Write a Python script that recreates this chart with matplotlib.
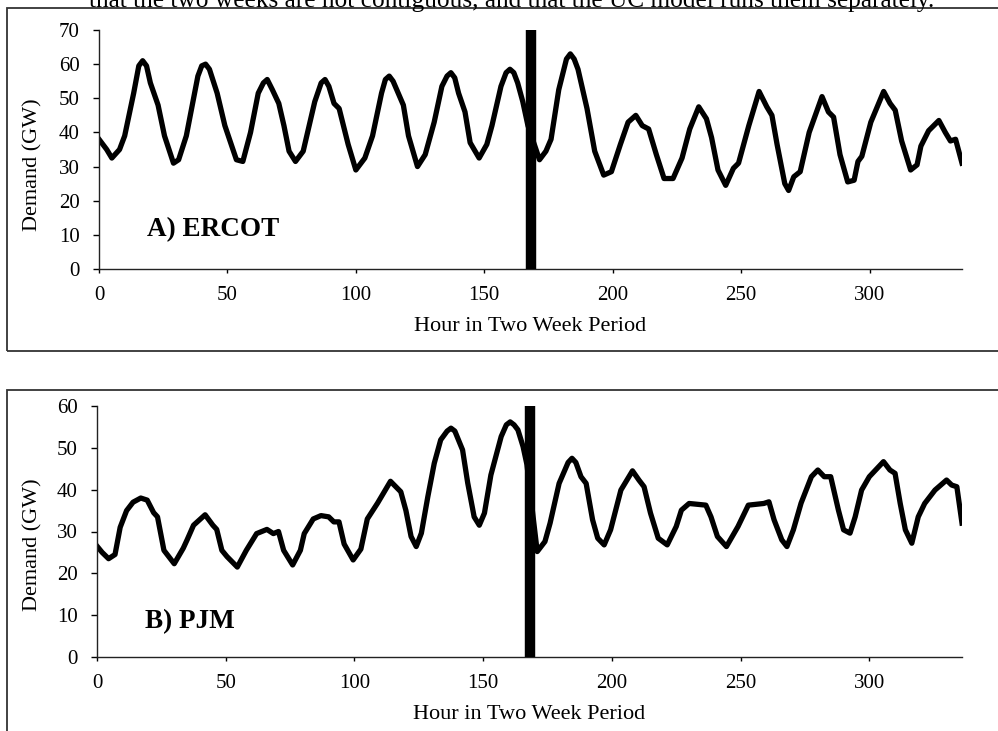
import matplotlib
matplotlib.use('Agg')
from matplotlib import pyplot as plt
from matplotlib.patches import Rectangle

# --- data (hour, demand in GW) ---
ercot_hour = [0, 3, 5, 8, 10, 13.5, 15.5, 17, 18.5, 20, 23, 25.5, 29, 31, 34, 38.5,
              40, 41.5, 43, 46, 49, 53.5, 56, 59, 62, 64, 65.5, 67.5, 70, 72, 74, 76.5,
              79.5, 84, 86.5, 88, 89.5, 91.5, 93.5, 97, 100, 103.5, 106.5, 110, 111.5,
              113, 114.5, 116.5, 118.5, 120.5, 124, 127, 130.5, 133.5, 135.5, 137,
              138.5, 140, 142.5, 144.5, 148, 151, 153, 156.5, 158.5, 160, 161.5, 163,
              165, 167, 171.5, 174, 176, 179, 182, 183.5, 185, 186.5, 190, 193, 196.5,
              199.5, 203, 206, 209, 211.5, 214, 217, 220, 223.5, 227, 230, 233.5,
              236.5, 238.5, 241, 244, 247, 249, 253, 257, 260, 262, 264, 267, 268.5,
              270.5, 273, 276.5, 281.5, 284, 286, 288.5, 291.5, 294, 295.5, 297,
              300.5, 305.5, 308, 310, 312.5, 316, 318.5, 320, 323, 327, 329.5, 331.5,
              333.5, 336]
ercot_gw = [38, 35, 32.5, 35, 39, 51.5, 59.5, 61, 59.5, 54.5, 48, 39, 31, 32, 39, 56.5,
            59.5, 60, 58.5, 51.5, 42, 32, 31.5, 40, 51.5, 54.5, 55.5, 52.5, 48.5, 42, 34.5, 31.5,
            34.5, 49, 54.5, 55.5, 53.5, 48.5, 47, 36.5, 29, 32.5, 39, 51.5, 55.5,
            56.5, 55, 51.5, 48, 39, 30, 33.5, 43, 53.5, 56.5, 57.5,
            56, 51.5, 46, 37, 32.5, 36.5, 42, 53.5, 57.5, 58.5, 57.5, 54.5,
            49, 42, 32, 34.5, 38, 52.5, 61.5, 63, 61.5, 58.5, 47, 34.5, 27.5,
            28.5, 36.5, 43, 45, 42, 41, 33.5, 26.5, 26.5, 32.5, 41, 47.5,
            44, 38.5, 29, 24.5, 29.5, 31, 42, 52, 47.5, 45, 36.5, 25, 23,
            27, 28.5, 40, 50.5, 46, 44.5, 33.5, 25.5, 26, 31.5, 33,
            43, 52, 48.5, 46.5, 37.5, 29, 30.5, 36, 40.5, 43.5, 40, 37.5,
            38, 31]

pjm_hour = [0, 2, 4.5, 7, 9, 11.5, 14, 17, 19.5, 22, 23.5, 26, 30, 33.5, 35, 37.5,
            42, 45, 46.5, 48.5, 50.5, 54.5, 58, 62, 66, 68.5, 70.5, 72.5, 76, 79,
            80.5, 84, 87, 90, 92, 94, 96, 99.5, 102.5, 105, 109, 114, 118, 120, 122,
            124, 126, 128.5, 131, 133.5, 136, 137.5, 139, 142, 144, 146.5, 148.5,
            150.5, 153, 157, 159, 160.5, 162, 163.5, 165.5, 167, 171, 174, 176, 179.5,
            183, 184.5, 186, 188, 190, 192.5, 194.5, 197, 199.5, 203.5, 208, 210.5,
            212.5, 215, 218, 221.5, 225, 227, 230, 236.5, 238.5, 241, 244.5, 249, 253,
            259, 261, 263, 266, 268, 270.5, 273.5, 277.5, 280, 282.5, 285, 288, 290,
            292.5, 294.5, 297, 300, 305.5, 308, 310, 312, 314, 316.5, 319, 321.5,
            325.5, 330, 332, 334, 336]
pjm_gw = [26.5, 25, 23.5, 24.5, 31, 35, 37, 38, 37.5, 34.5, 33.5, 25.5, 22.3, 26, 28, 31.5,
          34, 31.5, 30.5, 25.5, 24, 21.5, 25.5, 29.5, 30.5, 29.5, 30, 25.5, 22, 25.5,
          29.5, 33, 33.8, 33.5, 32.3, 32.3, 27, 23.2, 25.8, 33, 36.8, 42, 39.5, 35, 28.8,
          26.4, 29.6, 38.3, 46.3, 51.9, 54, 54.7, 54, 49.5, 41.6, 33.5, 31.5,
          34.4, 43.5, 52.7, 55.5, 56.2, 55.5, 54.3, 50.3, 46, 25.2, 27.6, 32, 41.5,
          46.5, 47.5, 46.5, 43.1, 41.5, 32.8, 28.4, 26.8, 30.4, 39.9, 44.5, 42.3,
          40.7, 34.4, 28.4, 26.8, 31.2, 35.1, 36.7, 36.3, 33.5, 28.8, 26.4, 31.2, 36.3,
          36.7, 37.1, 32.8, 28, 26.4, 30.4, 36.8, 43.1, 44.7, 43.1, 43.1, 35.1, 30.4,
          29.6, 33.5, 39.9, 43.1, 46.7, 44.7, 43.9, 36.7, 30.4, 27.2, 33.5, 36.7,
          39.9, 42.3, 41.1, 40.7, 32]

week_break = 168
x_ticks = [0, 50, 100, 150, 200, 250, 300]
ercot_yticks = [0, 10, 20, 30, 40, 50, 60, 70]
pjm_yticks = [0, 10, 20, 30, 40, 50, 60]
x_label = 'Hour in Two Week Period'
y_label = 'Demand (GW)'
caption = 'that the two weeks are not contiguous, and that the UC model runs them separately.'

plt.rcParams['font.family'] = ['Liberation Serif', 'DejaVu Serif']

W, H = 998, 731
fig = plt.figure(figsize=(W / 100, H / 100), dpi=100)


def px_rect(left, top, right, bottom):
    # pixel box -> figure fraction [l, b, w, h]
    return [left / W, 1 - bottom / H, (right - left) / W, (bottom - top) / H]


def panel(box, hours, gw, yticks, label, label_pos, ylab_xy):
    ax = fig.add_axes(box)
    ax.plot(hours, gw, color='black', lw=3.8, solid_joinstyle='round', zorder=2)
    # thick bar separating the two (non-contiguous) weeks
    ax.vlines(week_break, 0, yticks[-1], color='black', lw=7.5, zorder=3)
    ax.set_xlim(0, 336)
    ax.set_ylim(0, yticks[-1])
    ax.set_xticks(x_ticks)
    ax.set_yticks(yticks)
    for s in ['top', 'right']:
        ax.spines[s].set_visible(False)
    for s in ['left', 'bottom']:
        ax.spines[s].set_linewidth(1.0)
        ax.spines[s].set_color('#222222')
    ax.tick_params(axis='y', direction='out', length=4, width=1, pad=10, labelsize=15)
    ax.tick_params(axis='x', direction='out', length=3, width=1, pad=9, labelsize=15)
    ax.set_xlabel(x_label, fontsize=16, labelpad=9)
    ax.set_ylabel(y_label, fontsize=16)
    ax.yaxis.set_label_coords(*ylab_xy)
    ax.text(label_pos[0], label_pos[1], label, transform=ax.transAxes,
            fontsize=19.5, fontweight='bold', ha='left', va='center')
    return ax


panel(px_rect(99, 30, 962, 269), ercot_hour, ercot_gw, ercot_yticks,
      'A) ERCOT', (0.056, 0.163), (-0.065, 0.435))
panel(px_rect(97, 406, 962, 657), pjm_hour, pjm_gw, pjm_yticks,
      'B) PJM', (0.056, 0.139), (-0.063, 0.446))

# boxes around each panel (cut by the page edge)
fig.patches.append(Rectangle((7 / W, 1 - 351 / H), 1.1, 343 / H, transform=fig.transFigure,
                             fill=False, ec='#333333', lw=1.3, clip_on=False))
fig.patches.append(Rectangle((7 / W, -0.1), 1.1, 0.1 + 1 - 390 / H, transform=fig.transFigure,
                             fill=False, ec='#333333', lw=1.3, clip_on=False))

# running text of the page, cut off at the top edge as in the scan
fig.text(89 / W, 1 - 6.5 / H, caption, fontsize=18.3, ha='left', va='baseline')

fig.savefig('out.png', dpi=100)
